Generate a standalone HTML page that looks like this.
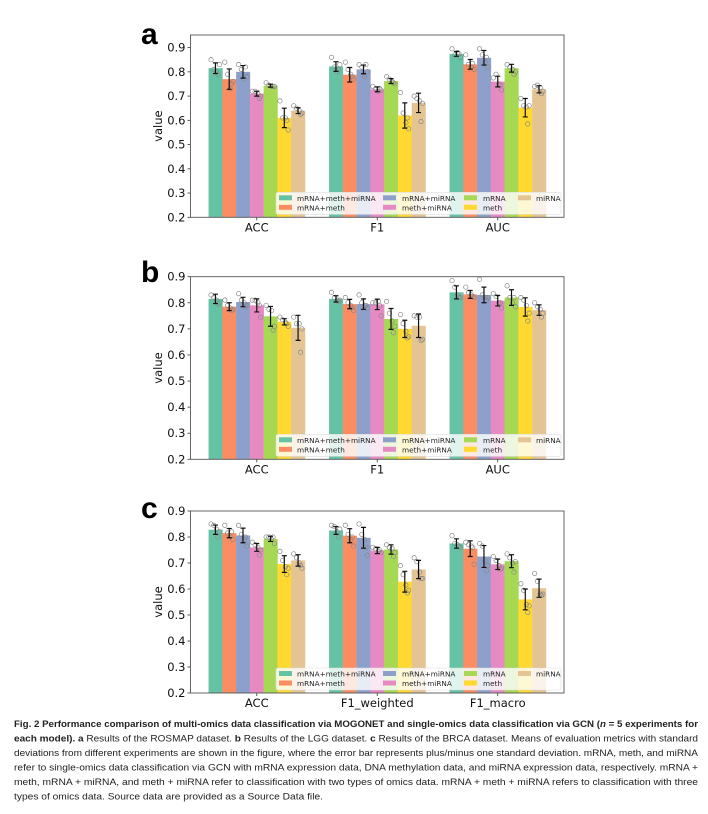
<!DOCTYPE html>
<html><head><meta charset="utf-8"><style>
body{margin:0;background:#fff}
svg{display:block;font-family:"DejaVu Sans","Liberation Sans",sans-serif}
</style></head><body>
<svg id="fig" width="708" height="814" viewBox="0 0 708 814">
<text x="141" y="44" font-size="30" font-weight="bold" font-family="Liberation Sans,sans-serif">a</text>
<text x="141" y="282" font-size="30" font-weight="bold" font-family="Liberation Sans,sans-serif">b</text>
<text x="141" y="518" font-size="30" font-weight="bold" font-family="Liberation Sans,sans-serif">c</text>
<g id="charts"></g>
<g font-family="Liberation Sans,sans-serif" font-size="9.4" fill="#222">
<text x="14" y="727" textLength="684" lengthAdjust="spacingAndGlyphs" font-weight="bold">Fig. 2 Performance comparison of multi-omics data classification via MOGONET and single-omics data classification via GCN (<tspan font-style="italic">n</tspan> = 5 experiments for</text>
<text x="14" y="741.5" textLength="684" lengthAdjust="spacingAndGlyphs"><tspan font-weight="bold">each model). a</tspan> Results of the ROSMAP dataset. <tspan font-weight="bold">b</tspan> Results of the LGG dataset. <tspan font-weight="bold">c</tspan> Results of the BRCA dataset. Means of evaluation metrics with standard</text>
<text x="14" y="756" textLength="684" lengthAdjust="spacingAndGlyphs">deviations from different experiments are shown in the figure, where the error bar represents plus/minus one standard deviation. mRNA, meth, and miRNA</text>
<text x="14" y="770.5" textLength="684" lengthAdjust="spacingAndGlyphs">refer to single-omics data classification via GCN with mRNA expression data, DNA methylation data, and miRNA expression data, respectively. mRNA +</text>
<text x="14" y="785" textLength="684" lengthAdjust="spacingAndGlyphs">meth, mRNA + miRNA, and meth + miRNA refer to classification with two types of omics data. mRNA + meth + miRNA refers to classification with three</text>
<text x="14" y="799.5" textLength="309" lengthAdjust="spacingAndGlyphs">types of omics data. Source data are provided as a Source Data file.</text>
</g>
</svg>
<script>
const seriesNames=["mRNA+meth+miRNA","mRNA+meth","mRNA+miRNA","meth+miRNA","mRNA","meth","miRNA"];
const colors=["#66c2a5","#fc8d62","#8da0cb","#e78ac3","#a6d854","#ffd92f","#e5c494"];
const yTicks=[0.2,0.3,0.4,0.5,0.6,0.7,0.8,0.9];
const catsA=["ACC","F1","AUC"];
const meansA=[[0.815,0.77,0.80,0.71,0.743,0.61,0.64],[0.822,0.788,0.81,0.728,0.762,0.62,0.672],[0.874,0.831,0.858,0.76,0.815,0.652,0.728]];
const errA=[[0.022,0.042,0.026,0.01,0.006,0.04,0.012],[0.02,0.03,0.018,0.01,0.01,0.052,0.04],[0.01,0.02,0.03,0.022,0.016,0.038,0.015]];
const ptsA=[
[[0.85,0.81,0.80,0.83,0.79],[0.84,0.79,0.73,0.76,0.75],[0.83,0.81,0.77,0.78,0.82],[0.72,0.72,0.71,0.70,0.69],[0.755,0.745,0.74,0.74,0.74],[0.68,0.61,0.61,0.56,0.60],[0.66,0.65,0.64,0.63,0.625]],
[[0.86,0.82,0.80,0.83,0.81],[0.84,0.81,0.79,0.77,0.78],[0.83,0.82,0.78,0.80,0.83],[0.74,0.73,0.72,0.725,0.73],[0.78,0.77,0.76,0.75,0.755],[0.715,0.63,0.59,0.565,0.61],[0.70,0.69,0.68,0.67,0.595]],
[[0.895,0.87,0.88,0.86,0.875],[0.87,0.83,0.82,0.81,0.835],[0.895,0.87,0.84,0.82,0.86],[0.775,0.79,0.75,0.725,0.745],[0.83,0.82,0.81,0.80,0.79],[0.69,0.66,0.655,0.66,0.585],[0.74,0.745,0.735,0.72,0.71]]];
const catsB=["ACC","F1","AUC"];
const meansB=[[0.815,0.785,0.803,0.79,0.748,0.727,0.704],[0.815,0.795,0.795,0.794,0.738,0.70,0.712],[0.84,0.832,0.83,0.808,0.82,0.784,0.772]];
const errB=[[0.018,0.015,0.018,0.025,0.038,0.012,0.048],[0.012,0.018,0.02,0.02,0.04,0.033,0.045],[0.025,0.015,0.03,0.02,0.03,0.035,0.02]];
const ptsB=[
[[0.83,0.82,0.81,0.80,0.795],[0.81,0.79,0.78,0.775,0.77],[0.835,0.81,0.80,0.79,0.785],[0.81,0.81,0.80,0.745,0.79],[0.79,0.775,0.77,0.71,0.695],[0.745,0.735,0.725,0.71,0.72],[0.745,0.72,0.72,0.70,0.61]],
[[0.84,0.82,0.81,0.81,0.805],[0.82,0.80,0.79,0.77,0.78],[0.83,0.80,0.79,0.78,0.79],[0.80,0.80,0.805,0.75,0.79],[0.805,0.76,0.73,0.71,0.685],[0.755,0.72,0.69,0.67,0.665],[0.75,0.745,0.745,0.66,0.655]],
[[0.885,0.86,0.83,0.82,0.82],[0.86,0.84,0.83,0.82,0.825],[0.89,0.83,0.82,0.82,0.81],[0.835,0.825,0.80,0.78,0.80],[0.865,0.82,0.80,0.785,0.82],[0.82,0.81,0.79,0.76,0.73],[0.80,0.785,0.775,0.76,0.745]]];
const catsC=["ACC","F1_weighted","F1_macro"];
const meansC=[[0.828,0.815,0.806,0.76,0.793,0.696,0.71],[0.825,0.805,0.797,0.748,0.752,0.628,0.675],[0.775,0.755,0.725,0.695,0.707,0.56,0.603]];
const errC=[[0.018,0.018,0.028,0.015,0.01,0.032,0.022],[0.015,0.027,0.04,0.012,0.018,0.04,0.035],[0.018,0.03,0.042,0.02,0.025,0.04,0.035]];
const ptsC=[
[[0.85,0.845,0.83,0.82,0.80],[0.845,0.815,0.80,0.79,0.82],[0.845,0.81,0.79,0.765,0.80],[0.78,0.77,0.76,0.75,0.73],[0.80,0.80,0.79,0.775,0.80],[0.745,0.71,0.685,0.68,0.655],[0.735,0.72,0.70,0.68,0.69]],
[[0.845,0.84,0.82,0.83,0.80],[0.845,0.81,0.79,0.765,0.80],[0.85,0.81,0.79,0.73,0.76],[0.76,0.755,0.745,0.74,0.75],[0.77,0.76,0.755,0.74,0.725],[0.69,0.655,0.615,0.595,0.585],[0.72,0.705,0.665,0.64,0.64]],
[[0.805,0.775,0.77,0.76,0.765],[0.78,0.77,0.765,0.695,0.76],[0.775,0.765,0.71,0.69,0.67],[0.725,0.71,0.69,0.68,0.675],[0.735,0.72,0.70,0.705,0.665],[0.62,0.595,0.54,0.535,0.51],[0.66,0.63,0.58,0.58,0.575]]];

const NS="http://www.w3.org/2000/svg";
const root=document.getElementById('charts');
function mk(tag,attrs,parent){const e=document.createElementNS(NS,tag);for(const k in attrs)e.setAttribute(k,attrs[k]);parent.appendChild(e);return e;}
const jit=[-0.32,-0.12,0.08,0.28,0.18];

function panel(id,top,bottom,ymax,cats,means,errs,pts){
  const L=190.5,R=564;
  const g=mk('g',{},root);
  
  
  const y=v=>bottom-(v-0.2)/(ymax-0.2)*(bottom-top);
  const x=v=>L+(v+0.55)/3.1*(R-L);
  const bw=0.8/7;
  cats.forEach((c,ci)=>{
    means[ci].forEach((m,si)=>{
      const cx=ci-0.4+bw*(si+0.5);
      const x0=x(cx-bw/2),x1=x(cx+bw/2);
      const r=mk('rect',{x:x0,y:y(m),width:x1-x0+0.3,height:bottom-y(m),fill:colors[si]},g);
      
      
      pts[ci][si].forEach((p,pi)=>{
        const d=mk('circle',{cx:x(cx+jit[pi]*bw),cy:y(p),r:2.2,fill:'none',stroke:'#888','stroke-width':0.7},g);
        
        
      });
      const e=errs[ci][si],xc=x(cx);
      const eb=mk('path',{d:`M${xc},${y(m-e)}V${y(m+e)}M${xc-2.5},${y(m-e)}H${xc+2.5}M${xc-2.5},${y(m+e)}H${xc+2.5}`,stroke:'#111','stroke-width':1.2,fill:'none'},g);
      
      
    });
    const t=mk('text',{x:x(ci),y:bottom+14,'font-size':11.5,'text-anchor':'middle',fill:'#111'},g);
    t.textContent=c;
    
    
    mk('line',{x1:x(ci),x2:x(ci),y1:bottom,y2:bottom+3,stroke:'#333','stroke-width':0.8},g);
  });
  yTicks.forEach(v=>{
    mk('line',{x1:L-3,x2:L,y1:y(v),y2:y(v),stroke:'#333','stroke-width':0.8},g);
    const t=mk('text',{x:L-5,y:y(v)+4,'font-size':11.5,'text-anchor':'end',fill:'#111'},g);
    t.textContent=v.toFixed(1);
    
    
  });
  const yl=mk('text',{x:0,y:0,'font-size':11.5,'text-anchor':'middle',fill:'#111',transform:`translate(162,${(top+bottom)/2}) rotate(-90)`},g);
  yl.textContent='value';
  
  
  // legend
  const lg=mk('g',{},g);
  
  
  const lt=bottom-25,lb=bottom-3;
  mk('rect',{x:276,y:lt,width:285,height:lb-lt,fill:'#fff','fill-opacity':0.8,stroke:'#ddd','stroke-width':0.6,rx:2},lg);
  const colX=[279,383,464,518],txtX=[297,402,483,536];
  seriesNames.forEach((n,i)=>{
    const col=Math.floor(i/2),row=i%2;
    const ry=lt+6+row*9.5;
    mk('rect',{x:colX[col],y:ry-3,width:13,height:5,fill:colors[i]},lg);
    const t=mk('text',{x:txtX[col],y:ry+2.5,'font-size':7.3,fill:'#222'},lg);
    t.textContent=n;
    
    
  });
  const f=mk('rect',{x:L,y:top,width:R-L,height:bottom-top,fill:'none',stroke:'#555','stroke-width':0.9},g);
  
  
}
panel('a',35,217.3,0.952,catsA,meansA,errA,ptsA);
panel('b',276.7,459.3,0.9,catsB,meansB,errB,ptsB);
panel('c',511,693,0.9,catsC,meansC,errC,ptsC);
</script>
</body></html>
